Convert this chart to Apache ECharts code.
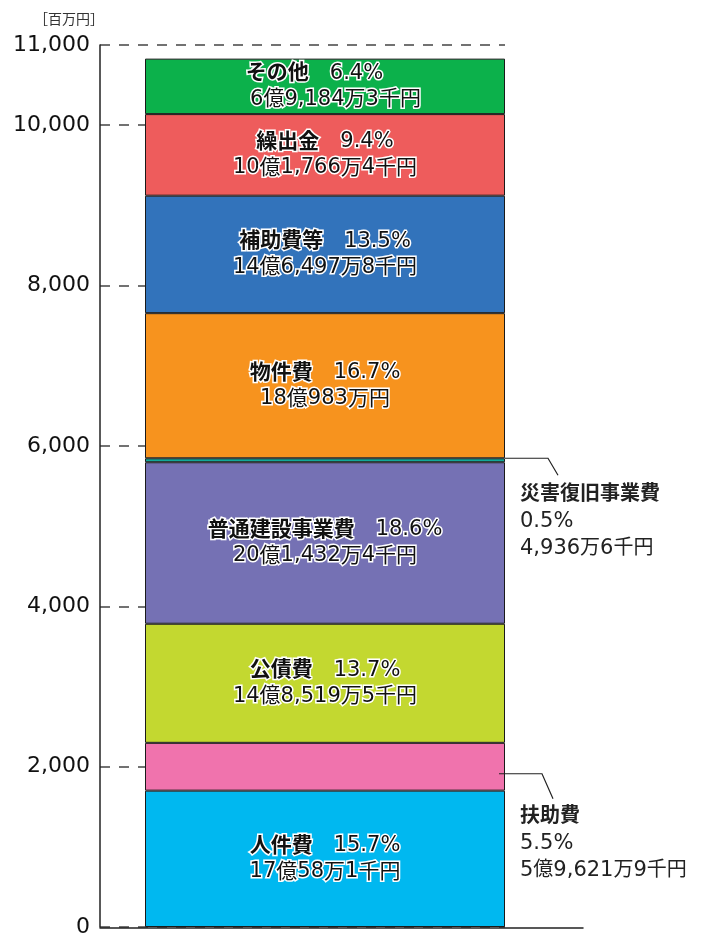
<!DOCTYPE html>
<html><head><meta charset="utf-8">
<script src="https://cdn.jsdelivr.net/npm/echarts@6/dist/echarts.min.js"></script>
<style>html,body{margin:0;padding:0;background:#fff}#c{width:715px;height:938px}</style>
</head><body><div id="c"></div>
<script>
const categories = ['歳出'];
const names = ['人件費','扶助費','公債費','普通建設事業費','災害復旧事業費','物件費','補助費等','繰出金','その他'];
// 百万円
const values = [1700.581, 596.219, 1485.195, 2014.324, 49.366, 1809.830, 1464.978, 1017.664, 691.843];
const percents = ['15.7%','5.5%','13.7%','18.6%','0.5%','16.7%','13.5%','9.4%','6.4%'];
const amounts = ['17億58万1千円','5億9,621万9千円','14億8,519万5千円','20億1,432万4千円','4,936万6千円','18億983万円','14億6,497万8千円','10億1,766万4千円','6億9,184万3千円'];
const colors = ['#00B8F0','#F073AD','#C3D830','#7571B4','#12A99A','#F7931E','#3273BB','#EE5C5C','#0CB14B'];
const yMin = 0, yMax = 11000, yInterval = 2000;
const unitLabel = '［百万円］';
const outsideLabels = ['扶助費','災害復旧事業費'];

const CJK = "'Noto Sans CJK JP', sans-serif";
const NUM = "'DejaVu Sans', sans-serif";

function tok(str, d, c) {
  return str.replace(/([0-9,.%]+)|([^0-9,.%]+)/g, (m, a, b) => a ? `{${d}|${a}}` : `{${c}|${b}}`);
}
const outline = {color:'#111', textBorderColor:'#fff', textBorderWidth:3, lineHeight:26, align:'center'};
const up = {padding:[0,0,4,0]};
const richIn = {
  b: Object.assign({fontFamily:CJK, fontWeight:'bold', fontSize:21}, outline, up),
  c: Object.assign({fontFamily:CJK, fontWeight:'normal', fontSize:21}, outline, up),
  d: Object.assign({fontFamily:NUM, fontWeight:'normal', fontSize:21}, outline)
};
const plain = {color:'#222', lineHeight:27, align:'left'};
const richOut = {
  b: Object.assign({fontFamily:CJK, fontWeight:'bold', fontSize:20}, plain, up),
  c: Object.assign({fontFamily:CJK, fontWeight:'normal', fontSize:20}, plain, up),
  d: Object.assign({fontFamily:NUM, fontWeight:'normal', fontSize:21}, plain)
};
const outsideOffsets = {'扶助費':[0,77], '災害復旧事業費':[0,61]};
// the top label in the original is typeset slightly off-centre
const lineShift = {'その他':['　','　']};

const series = [{
  name:'_pad', type:'bar', stack:'pad', barWidth:45, barGap:'0%', data:[0],
  itemStyle:{color:'rgba(0,0,0,0)'}, silent:true, label:{show:false}
}];
names.forEach((n, i) => {
  const outside = outsideLabels.includes(n);
  const sh = lineShift[n] || ['',''];
  series.push({
    name:n, type:'bar', stack:'total', barWidth:360, barGap:'0%', data:[values[i]],
    itemStyle:{color:colors[i], borderColor:'#1a1a1a', borderWidth:1},
    label: outside ? {
      show:true, position:'right', distance:15, offset:outsideOffsets[n],
      formatter: () => `{b|${n}}\n` + tok(percents[i],'d','c') + '\n' + tok(amounts[i],'d','c'),
      rich: richOut
    } : {
      show:true, position:'inside',
      formatter: () => `{b|${n}}{c|　}` + tok(percents[i],'d','c') + (sh[0] ? `{c|${sh[0]}}` : '') + '\n' +
        (sh[1] ? `{c|${sh[1]}}` : '') + tok(amounts[i],'d','c'),
      rich: richIn
    }
  });
});

const chart = echarts.init(document.getElementById('c'), null, {renderer:'canvas'});
chart.setOption({
  animation:false,
  title:{text:unitLabel, left:29, top:7, textStyle:{fontSize:14, fontWeight:'normal', color:'#333', fontFamily:CJK}},
  grid:[
    {left:100, right:210, top:45, bottom:10},
    {left:100, right:132, top:45, bottom:10}
  ],
  xAxis:[
    {type:'category', data:categories, gridIndex:0, axisLine:{show:false}, axisTick:{show:false}, axisLabel:{show:false}},
    {type:'value', gridIndex:1, min:0, max:1, axisLine:{show:true, onZero:false, lineStyle:{color:'#222', width:1.5}}, axisTick:{show:false}, axisLabel:{show:false}, splitLine:{show:false}}
  ],
  yAxis:[
    {type:'value', gridIndex:0, min:yMin, max:yMax, interval:yInterval,
     axisLine:{show:true, lineStyle:{color:'#222', width:1.5}}, axisTick:{show:false},
     axisLabel:{fontFamily:NUM, fontSize:22, color:'#111', margin:10, formatter:v => v.toLocaleString('en-US')},
     splitLine:{show:true, lineStyle:{color:'#444', width:1.5, type:[10,9]}}},
    {type:'value', gridIndex:1, min:0, max:1, show:false}
  ],
  series: series
});

// leader lines for outside labels
const cum = []; values.reduce((s, v, i) => (cum[i] = s + v, s + v), 0);
function yOf(v){ return chart.convertToPixel({gridIndex:0}, [categories[0], v])[1]; }
const iD = names.indexOf('災害復旧事業費'), iF = names.indexOf('扶助費');
const yD = yOf(cum[iD] - values[iD]/2) - 2;
const yF = yOf(cum[iF] - values[iF]/2) + 7;
chart.setOption({graphic:[
  {type:'polyline', z:100, shape:{points:[[505,yD],[548,yD],[558,yD+17]]}, style:{stroke:'#222', lineWidth:1.2, fill:null}},
  {type:'polyline', z:100, shape:{points:[[499,yF],[542,yF],[553,yF+25]]}, style:{stroke:'#222', lineWidth:1.2, fill:null}}
]});
</script>
</body></html>
